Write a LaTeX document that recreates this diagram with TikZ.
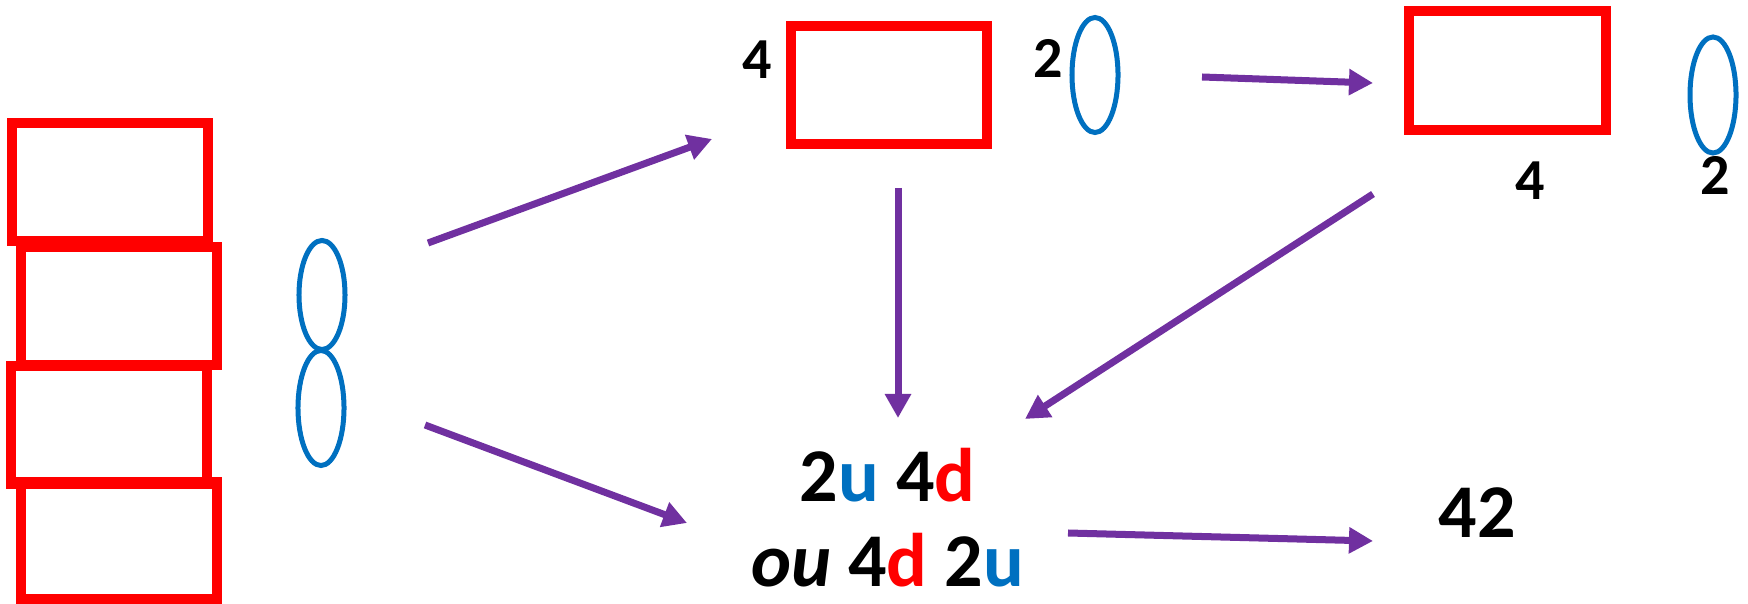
\documentclass[tikz,border=0pt]{standalone}
\usepackage{fontspec}
\setmainfont{Carlito}
\usetikzlibrary{arrows.meta,shapes.geometric}
\definecolor{redbox}{HTML}{FF0000}
\definecolor{blueell}{HTML}{0070C0}
\definecolor{purplearr}{HTML}{7030A0}
\tikzset{
  box/.style={draw=redbox, line width=0.1cm, rectangle, inner sep=0pt, minimum width=1.96cm, minimum height=1.18cm},
  ell/.style={draw=blueell, line width=0.05cm, ellipse, inner sep=0pt, minimum width=0.46cm},
  arr/.style={draw=purplearr, line width=0.07cm, -{Triangle[length=0.24cm,width=0.25cm]}},
  lblsmall/.style={anchor=base, inner sep=0pt, font=\fontsize{16.5pt}{20pt}\selectfont\bfseries},
  lblbig/.style={anchor=base, inner sep=0pt, font=\fontsize{21.6pt}{26pt}\selectfont\bfseries},
}
\begin{document}
\begin{tikzpicture}[x=0.01cm, y=-0.01cm]
\useasboundingbox (0,0) rectangle (1748,604);
% left stack
\node[box] (r1) at (110,182) {};
\node[box] (r2) at (119,306) {};
\node[box] (r3) at (109,425) {};
\node[box, minimum height=1.17cm] (r4) at (119,540.5) {};
\node[ell, minimum height=1.09cm] (e1) at (322,295) {};
\node[ell, minimum height=1.15cm] (e2) at (321,408) {};
% top middle
\node[box] (rm) at (889,85) {};
\node[ell, minimum height=1.15cm] (em) at (1095,75) {};
\node[lblsmall] (l4m) at (757,79) {4};
\node[lblsmall] (l2m) at (1048,78) {2};
% top right
\node[box, minimum width=1.97cm, minimum height=1.19cm] (rr) at (1507.5,70.5) {};
\node[ell, minimum height=1.16cm] (er) at (1713,95) {};
\node[lblsmall] (l4r) at (1530,200) {4};
\node[lblsmall] (l2r) at (1715,195) {2};
% bottom texts
\node[lblbig] (t1) at (887.5,502) {2\textcolor{blueell}{u} 4\textcolor{redbox}{d}};
\node[lblbig] (t2) at (887.5,587) {\textit{ou} 4\textcolor{redbox}{d} 2\textcolor{blueell}{u}};
\node[lblbig] (t42) at (1477,538) {42};
% arrow endpoints
\coordinate (a1s) at (428,243);
\coordinate (a1e) at (712,139);
\coordinate (a2s) at (425,425);
\coordinate (a2e) at (687,523);
\coordinate (a3s) at (898,188);
\coordinate (a3e) at (898,418);
\coordinate (a4s) at (1202,77);
\coordinate (a4e) at (1373,83);
\coordinate (a5s) at (1373,194);
\coordinate (a5e) at (1025,419);
\coordinate (a6s) at (1068,533);
\coordinate (a6e) at (1373,541);
\draw[arr] (a1s) -- (a1e);
\draw[arr] (a2s) -- (a2e);
\draw[arr] (a3s) -- (a3e);
\draw[arr] (a4s) -- (a4e);
\draw[arr] (a5s) -- (a5e);
\draw[arr] (a6s) -- (a6e);
\end{tikzpicture}
\end{document}
